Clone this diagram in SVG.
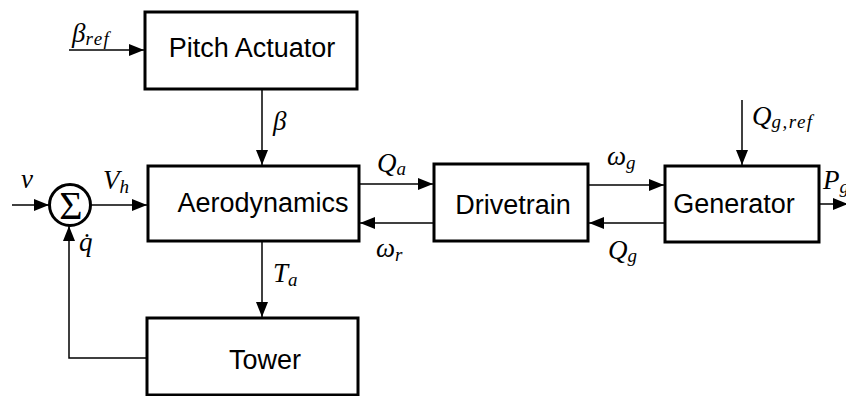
<svg xmlns="http://www.w3.org/2000/svg" width="846" height="396" viewBox="0 0 846 396">
<style>
.box{fill:#fff;stroke:#000;stroke-width:3}
.lbl{font-family:"Liberation Sans","DejaVu Sans",sans-serif;font-size:27px;fill:#000;text-anchor:middle}
.wire{fill:none;stroke:#000;stroke-width:1.5}
.m{font-family:"Liberation Serif","DejaVu Serif",serif;font-style:italic;font-size:27px;fill:#000}
.s{font-size:19px;letter-spacing:1.5px}
</style>
<defs>
<marker id="arr" viewBox="0 0 15 12" refX="15" refY="6" markerWidth="15" markerHeight="12" markerUnits="userSpaceOnUse" orient="auto">
<path d="M0,0 L15,6 L0,12 Z" fill="#000"/>
</marker>
</defs>
<rect width="846" height="396" fill="#fff"/>
<g id="connectors">
<path class="wire" d="M69,50 H144" marker-end="url(#arr)"/>
<path class="wire" d="M262,89 V165" marker-end="url(#arr)"/>
<path class="wire" d="M12,205 H49" marker-end="url(#arr)"/>
<path class="wire" d="M91,205 H147" marker-end="url(#arr)"/>
<path class="wire" d="M147,358 H69 V226" marker-end="url(#arr)"/>
<path class="wire" d="M359,184 H433" marker-end="url(#arr)"/>
<path class="wire" d="M434,223 H360" marker-end="url(#arr)"/>
<path class="wire" d="M588,185 H664" marker-end="url(#arr)"/>
<path class="wire" d="M665,223 H589" marker-end="url(#arr)"/>
<path class="wire" d="M262,241 V317" marker-end="url(#arr)"/>
<path class="wire" d="M742,100 V165" marker-end="url(#arr)"/>
<path class="wire" d="M819,204 H848" marker-end="url(#arr)"/>
<text class="m" x="72" y="42">β<tspan class="s" dy="3">ref</tspan></text>
<text class="m" x="273" y="130">β</text>
<text class="m" x="21" y="188">v</text>
<text class="m" x="103" y="189">V<tspan class="s" dy="4">h</tspan></text>
<text class="m" x="79" y="251">q̇</text>
<text class="m" x="377" y="172">Q<tspan class="s" dy="3">a</tspan></text>
<text class="m" x="376" y="257">ω<tspan class="s" dy="4">r</tspan></text>
<text class="m" x="607" y="165">ω<tspan class="s" dy="4">g</tspan></text>
<text class="m" x="608" y="259">Q<tspan class="s" dy="3">g</tspan></text>
<text class="m" x="752" y="125">Q<tspan class="s" dy="3">g,ref</tspan></text>
<text class="m" x="273" y="282">T<tspan class="s" dy="4">a</tspan></text>
<text class="m" x="823" y="189">P<tspan class="s" dy="4">g</tspan></text>
</g>
<g id="sum">
<circle cx="70" cy="205" r="20.5" fill="#fff" stroke="#000" stroke-width="3"/>
<text x="71" y="219" font-family="Liberation Serif, serif" font-size="40" text-anchor="middle" fill="#000">Σ</text>
</g>
<g id="pitch"><rect class="box" x="145" y="12" width="212" height="77"/><text class="lbl" x="252" y="57">Pitch Actuator</text></g>
<g id="aero"><rect class="box" x="148" y="166" width="211" height="75"/><text class="lbl" x="263" y="212">Aerodynamics</text></g>
<g id="drivetrain"><rect class="box" x="434" y="164" width="154" height="77"/><text class="lbl" x="513" y="214">Drivetrain</text></g>
<g id="generator"><rect class="box" x="665" y="166" width="154" height="76"/><text class="lbl" x="734" y="213">Generator</text></g>
<g id="tower"><rect class="box" x="147" y="318" width="211" height="77"/><text class="lbl" x="265" y="369">Tower</text></g>
</svg>
